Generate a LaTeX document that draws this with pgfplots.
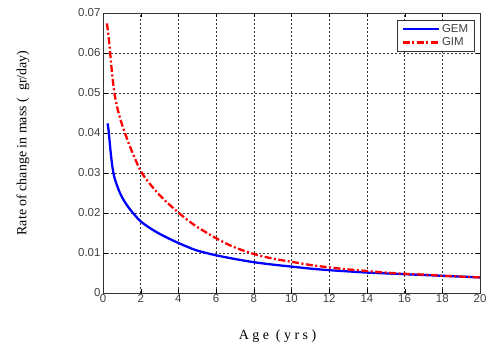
\documentclass[border=0pt]{standalone}
\usepackage{pgfplots}
\pgfplotsset{compat=1.18}
\usepackage{fontspec}
\setmainfont{Liberation Sans}
\newfontfamily\timesfont{Liberation Serif}
\begin{document}
\begin{tikzpicture}
\begin{axis}[
  name=ax,
  scale only axis,
  width=377bp, height=280bp,
  xmin=0, xmax=20, ymin=0, ymax=0.07,
  xtick={0,2,...,20},
  ytick={0,0.01,...,0.07},
  yticklabel style={xshift=1bp, /pgf/number format/fixed, /pgf/number format/precision=2},
  scaled y ticks=false,
  /pgf/number format/assume math mode=true,
  tick label style={font=\fontsize{11.5}{13}\selectfont, text=black!75},
  xticklabel style={yshift=2bp},
  grid=major,
  grid style={black!80, dash pattern=on 2bp off 2bp, line width=0.5pt},
  axis line style={black!80, line width=0.8pt},
  tick align=inside,
  tick style={black},
  xlabel={\timesfont A g e \ ( y r s )},
  ylabel={\timesfont Rate of change in mass (\ \ gr/day)},
  label style={font=\fontsize{14}{16}\selectfont},
  xlabel style={yshift=-20bp, xshift=-14bp},
  ylabel style={yshift=42bp, xshift=10bp},
  legend style={at={(0.985,0.975)}, anchor=north east, draw=black!80, fill=white,
    font=\fontsize{11.5}{13}\selectfont, text=black!75, cells={anchor=west}, row sep=0pt,
    inner xsep=4bp, inner ysep=2bp},
  legend image code/.code={\draw[#1, line width=2.6pt] (0bp,0bp) -- (36bp,0bp);},
  legend cell align=left,
]
\addplot[blue, line width=2.3pt, smooth, tension=0.5] coordinates {
(0.24,0.0424)(0.30,0.0405)(0.40,0.0355)(0.50,0.0315)(0.60,0.0290)(0.75,0.0268)
(0.90,0.0250)(1.10,0.0232)(1.40,0.0211)(1.70,0.0194)(2.00,0.0179)(2.50,0.0162)
(3.00,0.0148)(3.50,0.0136)(4.00,0.0125)(4.50,0.0115)(5.00,0.0106)(5.92,0.0095)
(7,0.0085)(8,0.0077)(9,0.0071)(10,0.0066)
(11,0.0061)(12,0.0057)(13,0.0054)(14,0.0051)(15,0.0049)(16,0.0047)(17,0.0045)
(18,0.0043)(19,0.0041)(20,0.0039)
};
\addlegendentry{GEM}
\addplot[red, line width=2.3pt, dash pattern=on 7pt off 2.5pt on 2pt off 2.5pt, smooth, tension=0.5] coordinates {
(0.21,0.0674)(0.30,0.0640)(0.38,0.0600)(0.48,0.0550)(0.59,0.0505)(0.75,0.0465)
(0.95,0.0430)(1.18,0.0398)(1.5,0.0358)(2.0,0.0305)(2.5,0.0272)(3.0,0.0245)
(3.5,0.0222)(4.0,0.0201)(4.5,0.0182)(5.0,0.0165)(5.92,0.0139)(6.7,0.0120)
(7.5,0.0105)(8.2,0.0095)(9,0.0086)
(10,0.0078)(11,0.0070)(12,0.0064)(13,0.0059)(14,0.0055)(15,0.0051)(16,0.0048)
(17,0.0046)(18,0.0043)(19,0.0041)(20,0.0039)
};
\addlegendentry{GIM}
\end{axis}
\pgfresetboundingbox
\path ([xshift=-103bp,yshift=-61bp]ax.south west) rectangle ([xshift=7bp,yshift=13bp]ax.north east);
\end{tikzpicture}
\end{document}
